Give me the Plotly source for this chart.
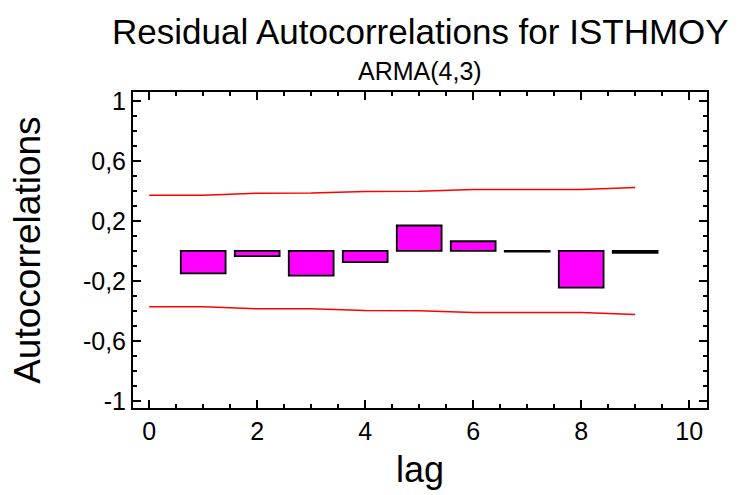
import plotly.graph_objects as go

# residual autocorrelations
lags = [1, 2, 3, 4, 5, 6, 7, 8, 9]
acf = [-0.15, -0.035, -0.165, -0.075, 0.17, 0.065, -0.005, -0.245, -0.012]

# probability limits (lag 0..9)
limit_lags = [0, 1, 2, 3, 4, 5, 6, 7, 8, 9]
upper_limit = [0.372, 0.372, 0.385, 0.386, 0.397, 0.398, 0.41, 0.41, 0.41, 0.423]
lower_limit = [-v for v in upper_limit]

y_tickvals = [1, 0.6, 0.2, -0.2, -0.6, -1]
y_ticktext = ["1", "0,6", "0,2", "-0,2", "-0,6", "-1"]
x_tickvals = [0, 2, 4, 6, 8, 10]

title = "Residual Autocorrelations for ISTHMOY"
subtitle = "ARMA(4,3)"
font = "Liberation Sans, Arial, sans-serif"

fig = go.Figure()
fig.add_trace(go.Bar(x=lags, y=acf, width=0.83,
                     marker=dict(color="#FF00FF", line=dict(color="black", width=1.8))))
fig.add_trace(go.Scatter(x=limit_lags, y=upper_limit, mode="lines",
                         line=dict(color="#FF0000", width=1.5)))
fig.add_trace(go.Scatter(x=limit_lags, y=lower_limit, mode="lines",
                         line=dict(color="#FF0000", width=1.5)))

axis_common = dict(showgrid=False, zeroline=False, showline=True, linecolor="black",
                   linewidth=2, mirror="ticks", ticks="inside", ticklen=8, tickwidth=2,
                   tickcolor="black", tickfont=dict(family=font, size=25, color="black"))

fig.update_xaxes(range=[-0.3, 10.33], tickmode="array", tickvals=x_tickvals,
                 minor=dict(tickmode="linear", tick0=0, dtick=0.5, ticks="inside",
                            ticklen=4, tickwidth=2, tickcolor="black"),
                 **axis_common)
fig.update_yaxes(range=[-1.047, 1.06], tickmode="array", tickvals=y_tickvals,
                 ticktext=y_ticktext,
                 minor=dict(tickmode="linear", tick0=0, dtick=0.1, ticks="inside",
                            ticklen=4, tickwidth=2, tickcolor="black"),
                 **axis_common)

# the page adds an 8px body margin, so the plot box is shifted up/left by 8px
fig.update_layout(
    width=738, height=495,
    margin=dict(l=125, r=39, t=84, b=95),
    plot_bgcolor="white", paper_bgcolor="white",
    showlegend=False,
    font=dict(family=font, color="black"),
    annotations=[
        dict(text=title, x=0.5, y=1.193, xref="paper", yref="paper",
             xanchor="center", yanchor="middle", showarrow=False,
             font=dict(size=35, family=font)),
        dict(text=subtitle, x=0.5, y=1.066, xref="paper", yref="paper",
             xanchor="center", yanchor="middle", showarrow=False,
             font=dict(size=25, family=font)),
        dict(text="Autocorrelations", x=-0.185, y=0.5, xref="paper", yref="paper",
             xanchor="center", yanchor="middle", textangle=-90, showarrow=False,
             font=dict(size=37, family=font)),
        dict(text="lag", x=0.5, y=-0.196, xref="paper", yref="paper",
             xanchor="center", yanchor="middle", showarrow=False,
             font=dict(size=36, family=font)),
    ],
)

fig.write_html("out.html")
